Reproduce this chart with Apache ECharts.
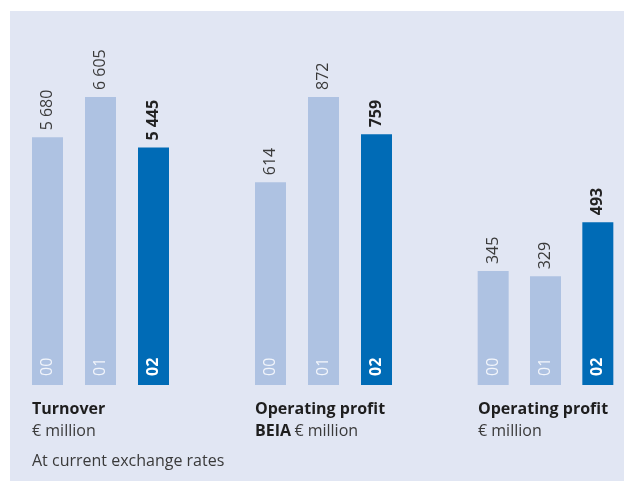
<!DOCTYPE html>
<html>
<head>
<meta charset="utf-8">
<script src="https://cdn.jsdelivr.net/npm/echarts@6/dist/echarts.min.js"></script>
<style>
  html, body { margin: 0; padding: 0; background: #ffffff; }
  #chart { width: 624px; height: 481px; }
</style>
</head>
<body>
<div id="chart"></div>
<script>
// Financial years shown in each panel
const years = ['00', '01', '02'];

// Turnover, € million
const turnover = [5680, 6605, 5445];
// Operating profit BEIA, € million
const opProfitBeia = [614, 872, 759];
// Operating profit, € million
const opProfit = [345, 329, 493];

const FONT = '"Open Sans", "Noto Sans", sans-serif';
const LIGHT = '#aec2e2';
const DARK = '#006bb6';
const BG = '#e1e6f3';

// thousands separated by a space, e.g. 5 680
function fmt(v) {
  return String(v).replace(/\B(?=(\d{3})+(?!\d))/g, ' ');
}

// the two profit panels share one scale
const profitMax = Math.max(...opProfitBeia, ...opProfit);
const panels = [
  { values: turnover, max: Math.max(...turnover) },
  { values: opProfitBeia, max: profitMax },
  { values: opProfit, max: profitMax }
];

const grids = [], xAxes = [], yAxes = [], series = [];
panels.forEach((p, i) => {
  grids.push({ left: 21 + 223 * i, width: 159, top: 97, bottom: 96 });
  xAxes.push({
    gridIndex: i,
    type: 'category',
    data: years,
    axisLine: { show: false },
    axisTick: { show: false },
    axisLabel: { show: false }
  });
  yAxes.push({ gridIndex: i, type: 'value', min: 0, max: p.max, show: false });
  const lastIdx = p.values.length - 1;
  // bars with their values written above
  series.push({
    type: 'bar',
    xAxisIndex: i,
    yAxisIndex: i,
    barWidth: 31,
    data: p.values.map((v, idx) => ({
      value: v,
      itemStyle: { color: idx === lastIdx ? DARK : LIGHT },
      label: { fontWeight: idx === lastIdx ? 'bold' : 'normal', color: idx === lastIdx ? '#222222' : '#3a3a3a' }
    })),
    label: {
      show: true,
      position: 'top',
      rotate: 90,
      align: 'left',
      verticalAlign: 'middle',
      distance: 7,
      fontSize: 16,
      fontFamily: FONT,
      formatter: (d) => fmt(d.value)
    },
    emphasis: { disabled: true },
    silent: true
  });
  // year codes written upward from the foot of each bar
  series.push({
    type: 'bar',
    xAxisIndex: i,
    yAxisIndex: i,
    barWidth: 31,
    barGap: '-100%',
    z: 3,
    itemStyle: { color: 'rgba(0,0,0,0)' },
    data: p.values.map((v, idx) => ({
      value: v,
      label: idx === lastIdx
        ? { fontWeight: 'bold', color: '#ffffff' }
        : { fontWeight: 'normal', color: '#f2f5fb' }
    })),
    label: {
      show: true,
      position: 'insideBottom',
      rotate: 90,
      align: 'left',
      verticalAlign: 'middle',
      distance: 9,
      fontSize: 16,
      fontFamily: FONT,
      formatter: (d) => d.name
    },
    emphasis: { disabled: true },
    silent: true
  });
});

const titleRich = {
  b: { fontFamily: FONT, fontSize: 16, fontWeight: 'bold', fill: '#1e1e1e', lineHeight: 22 },
  n: { fontFamily: FONT, fontSize: 16, fill: '#3a3a3a', lineHeight: 22 }
};

const chart = echarts.init(document.getElementById('chart'), null, { renderer: 'canvas' });
chart.setOption({
  animation: false,
  backgroundColor: '#ffffff',
  graphic: [
    { type: 'rect', z: -10, shape: { x: 10, y: 11, width: 614, height: 470 }, style: { fill: BG } },
    { type: 'text', left: 32, top: 401, style: { rich: titleRich, text: '{b|Turnover}\n{n|€ million}' } },
    { type: 'text', left: 255, top: 401, style: { rich: titleRich, text: '{b|Operating profit}\n{b|BEIA} {n|€ million}' } },
    { type: 'text', left: 478, top: 401, style: { rich: titleRich, text: '{b|Operating profit}\n{n|€ million}' } },
    { type: 'text', left: 32, top: 453, style: { text: 'At current exchange rates', fontFamily: FONT, fontSize: 16, fill: '#3a3a3a' } }
  ],
  grid: grids,
  xAxis: xAxes,
  yAxis: yAxes,
  series: series
});
</script>
</body>
</html>
